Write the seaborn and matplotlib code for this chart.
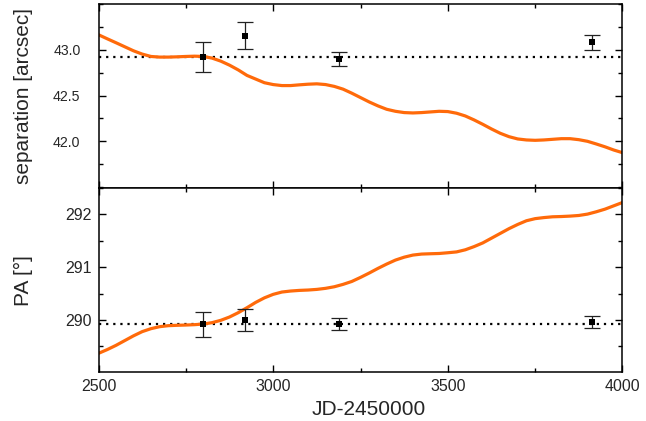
import numpy as np
import pandas as pd
import seaborn as sns
from matplotlib import pyplot as plt
from matplotlib.ticker import MultipleLocator

# model curves (every 25 days)
jd_curve = [2500, 2525, 2550, 2575, 2600, 2625, 2650, 2675, 2700, 2725, 2750, 2775,
            2800, 2825, 2850, 2875, 2900, 2925, 2950, 2975, 3000, 3025, 3050, 3075,
            3100, 3125, 3150, 3175, 3200, 3225, 3250, 3275, 3300, 3325, 3350, 3375,
            3400, 3425, 3450, 3475, 3500, 3525, 3550, 3575, 3600, 3625, 3650, 3675,
            3700, 3725, 3750, 3775, 3800, 3825, 3850, 3875, 3900, 3925, 3950, 3975, 4000]
sep_curve = [43.164, 43.12, 43.077, 43.033, 42.989, 42.953, 42.927, 42.92, 42.92, 42.923,
             42.927, 42.93, 42.927, 42.909, 42.876, 42.832, 42.78, 42.72, 42.68, 42.64,
             42.62, 42.609, 42.609, 42.617, 42.624, 42.628, 42.62, 42.6, 42.57, 42.526,
             42.478, 42.43, 42.387, 42.35, 42.328, 42.314, 42.31, 42.314, 42.321, 42.328,
             42.325, 42.307, 42.277, 42.234, 42.186, 42.135, 42.088, 42.051, 42.026, 42.015,
             42.011, 42.015, 42.022, 42.029, 42.029, 42.018, 42.0, 41.971, 41.94, 41.905,
             41.876]
pa_curve = [289.369, 289.44, 289.52, 289.61, 289.70, 289.78, 289.836, 289.874, 289.893,
            289.9, 289.905, 289.912, 289.924, 289.95, 289.994, 290.057, 290.139, 290.233,
            290.334, 290.42, 290.486, 290.53, 290.549, 290.561, 290.568, 290.58, 290.6,
            290.63, 290.675, 290.73, 290.807, 290.89, 290.978, 291.06, 291.135, 291.19,
            291.23, 291.249, 291.255, 291.26, 291.274, 291.29, 291.33, 291.39, 291.46,
            291.55, 291.64, 291.73, 291.81, 291.88, 291.92, 291.94, 291.955, 291.96,
            291.968, 291.98, 292.006, 292.05, 292.1, 292.163, 292.226]

# measurements
jd_obs = [2800, 2919, 3189, 3912]
sep_obs = [42.923, 43.153, 42.898, 43.08]
sep_err = [0.165, 0.145, 0.08, 0.077]
pa_obs = [289.924, 289.994, 289.924, 289.97]
pa_err = [0.237, 0.21, 0.11, 0.115]

sep_ref = 42.923
pa_ref = 289.92

sns.set_theme(style='ticks')
plt.rcParams['font.family'] = ['Liberation Sans', 'DejaVu Sans']

curve = pd.DataFrame({'JD': jd_curve, 'sep': sep_curve, 'PA': pa_curve})
obs = pd.DataFrame({'JD': jd_obs, 'sep': sep_obs, 'sep_err': sep_err, 'PA': pa_obs, 'pa_err': pa_err})

fig = plt.figure(figsize=(6.46, 4.21), dpi=100)
ax1 = fig.add_axes([0.1525, 0.5534, 0.8111, 0.4371])
ax2 = fig.add_axes([0.1525, 0.1157, 0.8111, 0.4377])

orange = '#ff6a0a'

for ax, col, err, ref in [(ax1, 'sep', 'sep_err', sep_ref), (ax2, 'PA', 'pa_err', pa_ref)]:
    ax.axhline(ref, color='black', lw=1.6, ls=(0, (1, 2.2)), zorder=1)
    sns.lineplot(data=curve, x='JD', y=col, ax=ax, color=orange, lw=2.3, zorder=2)
    ax.errorbar(obs['JD'], obs[col], yerr=obs[err], fmt='none', ecolor='#222222',
                elinewidth=0.9, capsize=5.5, capthick=0.9, zorder=3)
    sns.scatterplot(data=obs, x='JD', y=col, ax=ax, marker='s', s=22, color='black',
                    edgecolor='black', linewidth=0, zorder=4)
    ax.set_xlim(2500, 4000)
    ax.xaxis.set_major_locator(MultipleLocator(500))
    ax.xaxis.set_minor_locator(MultipleLocator(250))
    ax.tick_params(which='both', top=True, right=True, direction='in', width=1, color='black',
                   labelsize=11.5, pad=5)
    ax.tick_params(which='major', length=5)
    ax.tick_params(which='minor', length=3)
    for s in ax.spines.values():
        s.set_linewidth(1.1)
        s.set_color('black')

ax1.set_ylim(41.49, 43.50)
ax1.set_yticks([42.0, 42.5, 43.0])
ax1.set_yticklabels(['42.0', '42.5', '43.0'])
ax1.yaxis.set_minor_locator(MultipleLocator(0.25))
ax1.tick_params(axis='y', labelsize=10.2, pad=13)
ax1.tick_params(labelbottom=False)
ax1.set_xlabel('')
ax1.set_ylabel('separation [arcsec]', fontsize=15)

ax2.set_ylim(289.01, 292.5)
ax2.set_yticks([290, 291, 292])
ax2.yaxis.set_minor_locator(MultipleLocator(0.5))
ax2.set_ylabel('PA [°]', fontsize=15)
ax2.set_xlabel('JD-2450000', fontsize=15)

ax1.yaxis.set_label_coords(-0.125, 0.5)
ax2.yaxis.set_label_coords(-0.125, 0.5)
ax2.xaxis.set_label_coords(0.515, -0.15)

fig.savefig('out.png', dpi=100)
